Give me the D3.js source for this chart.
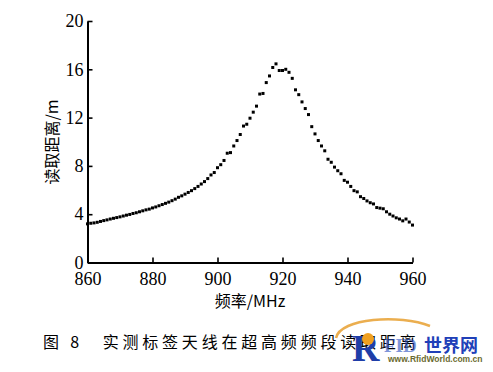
<!DOCTYPE html>
<html>
<head>
<meta charset="utf-8">
<script src="https://cdn.jsdelivr.net/npm/d3@7"></script>
<style>
    body { margin: 0; background: #fff; }
    .cn { font-family: "Noto Sans CJK SC", sans-serif; }
</style>
</head>
<body>
<div id="plot"></div>
<script>
let svgWidth = 493;
let svgHeight = 372;

// measured read range (m) against frequency (MHz)
let freqs = [];
for (let f = 860; f <= 960; f++) freqs.push(f);

let distances = [
    3.20, 3.25, 3.28, 3.33, 3.40, 3.47, 3.53, 3.60, 3.66, 3.72,
    3.78, 3.85, 3.92, 3.98, 4.06, 4.12, 4.20, 4.28, 4.36, 4.42,
    4.52, 4.60, 4.70, 4.80, 4.90, 5.00, 5.12, 5.25, 5.40, 5.52,
    5.66, 5.80, 5.95, 6.12, 6.30, 6.50, 6.70, 6.95, 7.25, 7.45,
    7.85, 8.10, 8.45, 9.05, 9.10, 9.65, 10.10, 10.60, 11.30, 11.45,
    11.95, 12.45, 12.95, 13.95, 14.00, 14.90, 15.45, 16.15, 16.45, 15.90,
    15.90, 16.00, 15.75, 15.25, 14.30, 13.90, 13.30, 12.75, 12.25, 11.25,
    10.65, 10.10, 9.65, 9.25, 8.55, 8.30, 7.90, 7.60, 7.35, 6.80,
    6.65, 6.30, 5.95, 5.85, 5.45, 5.30, 5.10, 4.95, 4.85, 4.55,
    4.50, 4.45, 4.20, 4.00, 3.85, 3.70, 3.60, 3.45, 3.60, 3.35,
    3.10
];

let xTicks = [860, 880, 900, 920, 940, 960];
let yTicks = [0, 4, 8, 12, 16, 20];

let xLabel = '频率/MHz';
let yLabel = '读取距离/m';
let caption = '图 8　实测标签天线在超高频频段读取距离';

let serif = '"Liberation Serif", "Times New Roman", serif';

let $svg = d3.select('#plot')
    .append('svg')
    .attr('width', svgWidth)
    .attr('height', svgHeight);

let xScale = d3.scaleLinear().domain([860, 960]).range([87.5, 412.5]);
let yScale = d3.scaleLinear().domain([0, 20]).range([262.5, 21]);

// axes, ticks pointing inward
$svg.append('g')
    .attr('transform', `translate(0, ${yScale(0)})`)
    .call(d3.axisBottom(xScale).tickValues(xTicks).tickSize(-5).tickSizeOuter(0).tickPadding(10));

$svg.append('g')
    .attr('transform', `translate(${xScale(860)}, 0)`)
    .call(d3.axisLeft(yScale).tickValues(yTicks).tickSize(-5).tickSizeOuter(0).tickPadding(4));

$svg.selectAll('.domain').attr('stroke', '#000').attr('stroke-width', 2);
$svg.selectAll('.tick line').attr('stroke', '#000').attr('stroke-width', 1.6);
$svg.selectAll('.tick text')
    .attr('font-family', serif)
    .style('font-family', serif)
    .style('font-size', '18px')
    .style('fill', '#000');

// points
let dot = 3;
$svg.append('g')
    .selectAll('rect')
    .data(freqs)
    .enter()
    .append('rect')
    .attr('x', d => xScale(d) - dot / 2)
    .attr('y', (d, i) => yScale(distances[i]) - dot / 2)
    .attr('width', dot)
    .attr('height', dot)
    .attr('fill', '#000');

// axis titles
$svg.append('text')
    .attr('class', 'cn')
    .attr('x', 250)
    .attr('y', 307)
    .attr('text-anchor', 'middle')
    .attr('font-size', 16)
    .text(xLabel);

$svg.append('text')
    .attr('class', 'cn')
    .attr('transform', 'translate(58, 142) rotate(-90)')
    .attr('text-anchor', 'middle')
    .attr('font-size', 16)
    .text(yLabel);

// caption
$svg.append('text')
    .attr('class', 'cn')
    .attr('x', 43)
    .attr('y', 348)
    .attr('font-size', 16)
    .attr('letter-spacing', 3.8)
    .text(caption);

// site watermark over the caption
let $mark = $svg.append('g');
$mark.append('path')
    .attr('d', 'M336,338 C340,318 400,314 430,326')
    .attr('fill', 'none')
    .attr('stroke', '#e8a030')
    .attr('stroke-width', 2.5)
    .attr('opacity', 0.85);
$mark.append('text')
    .attr('x', 352)
    .attr('y', 361)
    .attr('font-family', serif)
    .attr('font-weight', 'bold')
    .attr('font-size', 38)
    .attr('fill', '#1f3ea8')
    .text('R');
$mark.append('circle')
    .attr('cx', 368)
    .attr('cy', 339)
    .attr('r', 6)
    .attr('fill', '#f0a020');
$mark.append('text')
    .attr('x', 384)
    .attr('y', 352)
    .attr('font-family', serif)
    .attr('font-weight', 'bold')
    .attr('font-size', 19)
    .attr('fill', '#2a4fc0')
    .attr('opacity', 0.6)
    .text('FID');
$mark.append('text')
    .attr('class', 'cn')
    .attr('x', 424)
    .attr('y', 352)
    .attr('font-weight', 'bold')
    .attr('font-size', 18)
    .attr('fill', '#2040b8')
    .text('世界网');
$mark.append('text')
    .attr('x', 388)
    .attr('y', 362)
    .attr('font-family', 'Liberation Sans, sans-serif')
    .attr('font-weight', 'bold')
    .attr('font-size', 8.5)
    .attr('fill', '#6a6a30')
    .text('www.RfidWorld.com.cn');
</script>
</body>
</html>
